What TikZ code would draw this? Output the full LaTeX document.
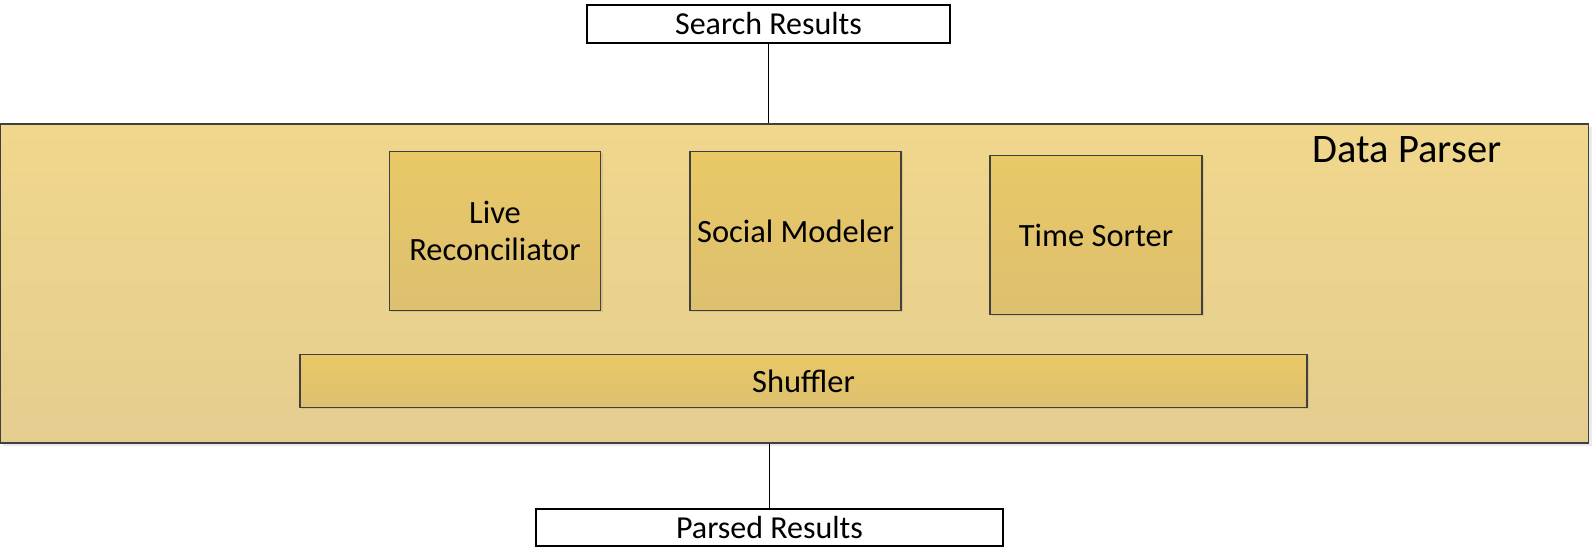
\documentclass[tikz,border=0pt]{standalone}
\usepackage{fontspec}
\setmainfont{Carlito}
\begin{document}
\begin{tikzpicture}[x=1pt,y=-1pt,
  whitebox/.style={draw=black,line width=1.2pt,fill=white,inner sep=0pt,font=\fontsize{32}{36}\selectfont},
  outerbox/.style={draw=black!75,line width=1.3pt,top color=gold1,bottom color=gold2,inner sep=0pt},
  innerbox/.style={draw=black!75,line width=1.2pt,top color=gold3,bottom color=gold4,inner sep=0pt,align=center,font=\fontsize{32.5}{37.5}\selectfont},
  boxshadow/.style={fill=black,fill opacity=0.08,draw=none},
  conn/.style={draw=black,line width=1pt}]
\definecolor{gold1}{RGB}{241,215,140}
\definecolor{gold2}{RGB}{228,205,143}
\definecolor{gold3}{RGB}{233,200,102}
\definecolor{gold4}{RGB}{221,192,112}
\useasboundingbox (0,0) rectangle (1592,548);
\fill[boxshadow] (3,127) rectangle (1592,446);
\node[whitebox,minimum width=363pt,minimum height=38pt] (search) at (768.5,24) {Search Results};
\node[outerbox,minimum width=1588pt,minimum height=319pt] (parser) at (794.5,283.5) {};
\node[font=\fontsize{40.5}{44}\selectfont] (plabel) at (1407,150) {Data Parser};
\fill[boxshadow] (391,153) rectangle (603,312);
\fill[boxshadow] (691,153) rectangle (903,312);
\fill[boxshadow] (992,157) rectangle (1204,316);
\fill[boxshadow] (302,356) rectangle (1309,409);
\node[innerbox,minimum width=211pt,minimum height=159pt] (live) at (495,231) {Live\\Reconciliator};
\node[innerbox,minimum width=211pt,minimum height=159pt] (social) at (795.5,231) {Social Modeler};
\node[innerbox,minimum width=212pt,minimum height=159pt] (time) at (1096,235) {Time Sorter};
\node[innerbox,minimum width=1007pt,minimum height=53pt] (shuffler) at (803.5,381) {Shuffler};
\node[whitebox,minimum width=467pt,minimum height=37pt] (parsed) at (769.5,527.5) {Parsed Results};
\draw[conn] (search.south) -- (search.south |- parser.north);
\draw[conn] (parsed.north) -- (parsed.north |- parser.south);
\end{tikzpicture}
\end{document}
